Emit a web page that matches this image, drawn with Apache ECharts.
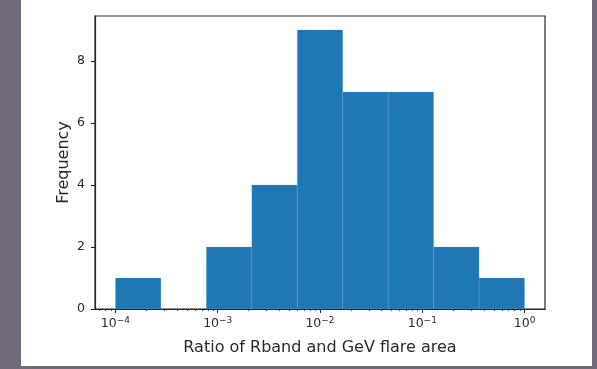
<!DOCTYPE html>
<html>
<head>
<meta charset="utf-8">
<style>
  html, body { margin: 0; padding: 0; background: #6f6979; }
  #frame { position: absolute; left: 21px; top: 0; width: 571px; height: 366px; background: #fff; }
  #chart { position: absolute; left: 0; top: 0; width: 597px; height: 369px; }
</style>
<script src="https://cdn.jsdelivr.net/npm/echarts@6/dist/echarts.min.js"></script>
</head>
<body>
<div id="frame"></div>
<div id="chart"></div>
<script>
// Histogram of area ratios, 9 logarithmic bins from 1e-4 to 1e0
const binEdgeExponents = [-4, -3.5556, -3.1111, -2.6667, -2.2222, -1.7778, -1.3333, -0.8889, -0.4444, 0];
const binCounts = [1, 0, 2, 4, 9, 7, 7, 2, 1];
const yTicks = [0, 2, 4, 6, 8];
const xMajorExponents = [-4, -3, -2, -1, 0];
const xLabel = 'Ratio of Rband and GeV flare area';
const yLabel = 'Frequency';

const bars = binCounts.map((c, i) => [Math.pow(10, binEdgeExponents[i]), Math.pow(10, binEdgeExponents[i + 1]), c]);

const minorTicks = [];
for (let e = -5; e <= 0; e++) {
  for (let m = 2; m <= 9; m++) {
    const v = m * Math.pow(10, e);
    if (v > Math.pow(10, -4.2) && v < Math.pow(10, 0.2)) minorTicks.push(v);
  }
}
const majorTicks = xMajorExponents.map(e => Math.pow(10, e));

const chart = echarts.init(document.getElementById('chart'), null, { renderer: 'canvas' });
const font = 'DejaVu Sans';
const axisCol = '#262626';
const textCol = '#2a2a2a';

chart.setOption({
  animation: false,
  backgroundColor: 'transparent',
  grid: { left: 95, top: 16, right: 52, bottom: 60, show: true, borderColor: axisCol, borderWidth: 1.2, backgroundColor: '#fff' },
  xAxis: [
    {
      type: 'log', logBase: 10, z: 10,
      min: Math.pow(10, -4.2), max: Math.pow(10, 0.2),
      name: xLabel, nameLocation: 'middle', nameGap: 31, nameMoveOverlap: false,
      nameTextStyle: { fontFamily: font, fontSize: 16, color: textCol },
      axisLine: { show: true, onZero: false, lineStyle: { color: axisCol, width: 1.2 } },
      axisTick: { show: true, length: 4, inside: false, customValues: majorTicks, lineStyle: { color: axisCol } },
      axisLabel: {
        customValues: majorTicks,
        margin: 7,
        formatter: function (v) {
          const e = Math.round(Math.log10(v));
          const s = String(e).replace('-', '\u2212');
          return '{b|10}{s|' + s + '}';
        },
        rich: {
          b: { fontFamily: font, fontSize: 12.5, color: textCol },
          s: { fontFamily: font, fontSize: 9, color: textCol, verticalAlign: 'top', padding: [0, 0, 6, 0] }
        }
      },
      splitLine: { show: false }
    },
    {
      type: 'log', logBase: 10, z: 10,
      min: Math.pow(10, -4.2), max: Math.pow(10, 0.2),
      position: 'bottom',
      axisLine: { show: false },
      axisTick: { show: true, length: 2, customValues: minorTicks, lineStyle: { color: axisCol, width: 0.8 } },
      axisLabel: { show: false },
      splitLine: { show: false }
    }
  ],
  yAxis: {
    type: 'value', min: 0, max: 9.45, z: 10,
    name: yLabel, nameLocation: 'middle', nameGap: 23, nameMoveOverlap: false,
    nameTextStyle: { fontFamily: font, fontSize: 16, color: textCol },
    axisLine: { show: true, lineStyle: { color: axisCol, width: 1.2 } },
    axisTick: { show: true, length: 4, customValues: yTicks, lineStyle: { color: axisCol } },
    axisLabel: { customValues: yTicks, fontFamily: font, fontSize: 12.5, color: textCol, margin: 10 },
    splitLine: { show: false }
  },
  series: [{
    type: 'custom',
    xAxisIndex: 0,
    z: 1,
    renderItem: function (params, api) {
      if (api.value(2) <= 0) return null;
      const p0 = api.coord([api.value(0), 0]);
      const p1 = api.coord([api.value(1), api.value(2)]);
      return {
        type: 'rect',
        shape: { x: p0[0], y: p1[1], width: p1[0] - p0[0], height: p0[1] - p1[1] },
        style: { fill: '#1f77b4', stroke: 'rgba(120,170,215,0.5)', lineWidth: 0.5 }
      };
    },
    encode: { x: [0, 1], y: 2 },
    data: bars
  }]
});
</script>
</body>
</html>
